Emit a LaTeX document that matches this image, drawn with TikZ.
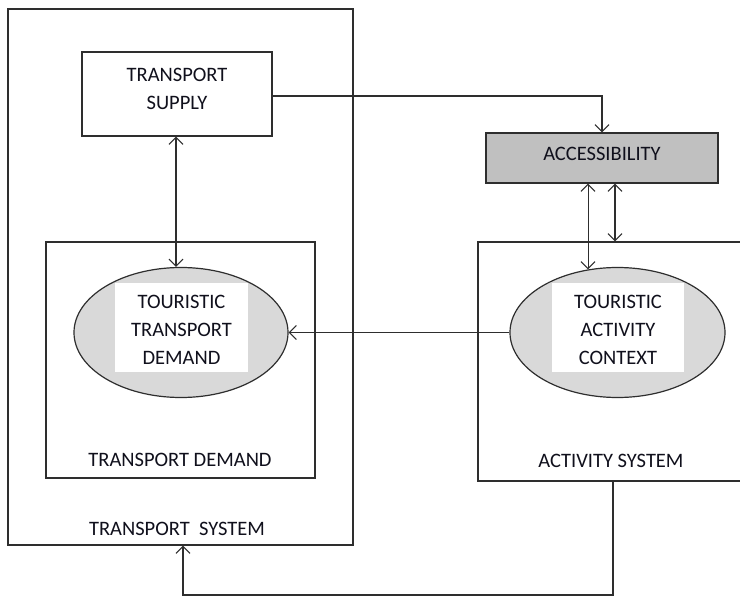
\documentclass[tikz,border=0pt]{standalone}
\usepackage{fontspec}
\setmainfont{Carlito}
\usetikzlibrary{arrows.meta,shapes.geometric,calc}
\definecolor{ln}{HTML}{2E2E2E}
\definecolor{txt}{HTML}{10101C}
\definecolor{ellfill}{HTML}{D9D9D9}
\definecolor{accfill}{HTML}{C0C0C0}
\tikzset{
  frame/.style={draw=ln, line width=1.2pt, rectangle, inner sep=0pt},
  oval/.style={draw=ln, line width=1.2pt, ellipse, fill=ellfill, inner sep=0pt},
  whitebox/.style={fill=white, rectangle, inner sep=0pt},
  lbl/.style={text=txt, font=\fontsize{20.5}{28}\selectfont, align=center, inner sep=0pt},
  conn/.style={draw=ln, line width=1.1pt},
  tip/.style={-{Straight Barb[length=7pt,width=14pt]}},
  tips/.style={{Straight Barb[length=7pt,width=14pt]}-{Straight Barb[length=7pt,width=14pt]}}
}
\begin{document}
\begin{tikzpicture}[x=1pt,y=-1pt]
\fill[white] (0,0) rectangle (740,597);
\useasboundingbox (0,0) rectangle (740,597);
\clip (0,0) rectangle (740,597);
% transport system
\node[frame, minimum width=345pt, minimum height=536pt] (sys) at (180.5,277) {};
\node[frame, fill=white, minimum width=190pt, minimum height=84pt] (supply) at (177,94) {};
\node[lbl] (supplyt) at (177,89) {TRANSPORT\\SUPPLY};
\node[frame, minimum width=269pt, minimum height=236pt] (dem) at (180.5,360) {};
\node[oval, minimum width=214pt, minimum height=130pt] (ell1) at (181,332.5) {};
\node[whitebox, minimum width=133pt, minimum height=89pt] (w1) at (181.5,327.5) {};
\node[lbl] (ell1t) at (181.5,330) {TOURISTIC\\TRANSPORT\\DEMAND};
\node[lbl] (demt) at (180,460) {TRANSPORT DEMAND};
\node[lbl] (syst) at (177,529) {TRANSPORT\ \ SYSTEM};
% accessibility
\node[frame, fill=accfill, minimum width=232pt, minimum height=50pt] (acc) at (602,158) {};
\node[lbl] (acct) at (602,154) {ACCESSIBILITY};
% activity system
\node[frame, minimum width=267pt, minimum height=239pt] (act) at (611.5,361.5) {};
\node[oval, minimum width=215pt, minimum height=130pt] (ell2) at (617.5,332.5) {};
\node[whitebox, minimum width=132pt, minimum height=89pt] (w2) at (618,327.5) {};
\node[lbl] (ell2t) at (618,330) {TOURISTIC\\ACTIVITY\\CONTEXT};
\node[lbl] (actt) at (611,461) {ACTIVITY SYSTEM};
% connectors
\coordinate (c1) at (176,0);
\draw[conn, tips] (supply.south -| c1) -- (ell1.north -| c1);
\coordinate (c0) at (0,96);
\draw[conn, tip] (supply.east |- c0) -| (acc.north);
\draw[conn, tips] (acc.south -| ell2.115.3) -- (ell2.115.3);
\coordinate (c2) at (615,0);
\draw[conn, tips] (acc.south -| c2) -- (act.north -| c2);
\draw[conn, tip] (ell2.west) -- (ell1.east);
\coordinate (r1) at (613,595);
\coordinate (r2) at (183,595);
\draw[conn, tip] (act.south -| r1) -- (r1) -- (r2) -- (sys.south -| r2);
\end{tikzpicture}
\end{document}
